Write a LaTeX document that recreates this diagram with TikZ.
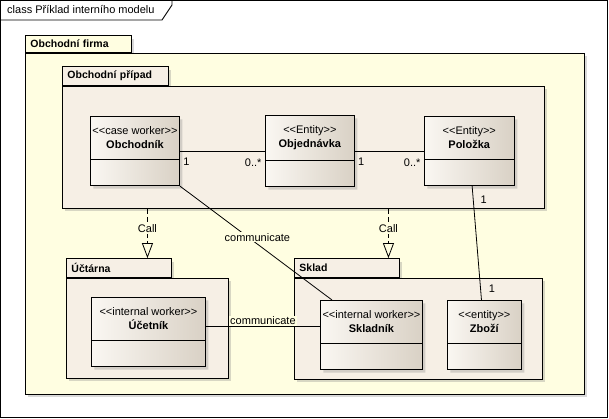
\documentclass[tikz,border=0pt]{standalone}
\usepackage{fontspec}
\setmainfont{Liberation Sans}[Ligatures=TeXOff]
\usetikzlibrary{arrows.meta, positioning, shapes.multipart, shadows}
\definecolor{firmaYellow}{HTML}{FFFEE1}
\definecolor{packageBeige}{HTML}{F6EFE5}
\definecolor{classLight}{HTML}{FAF7F2}
\definecolor{classDark}{HTML}{D9D1C5}
\newcommand{\stereo}[1]{<<#1>>}

\begin{document}
\begin{tikzpicture}[
  x=1pt, y=-1pt,
  every node/.style={font=\fontsize{11}{14}\selectfont},
  pkgbody/.style={draw, line width=0.9pt, fill=packageBeige, anchor=north west, inner sep=0pt,
                  drop shadow={shadow xshift=3pt, shadow yshift=-3pt, opacity=0.3}},
  pkgtab/.style={pkgbody, anchor=south west, inner xsep=5pt, align=left,
                 font=\fontsize{10.5}{13.5}\selectfont\bfseries},
  firmabody/.style={pkgbody, fill=firmaYellow},
  firmatab/.style={pkgtab, fill=firmaYellow},
  cls/.style={rectangle split, rectangle split parts=2, rectangle split empty part height=0pt,
              draw, line width=0.9pt, left color=classLight, right color=classDark,
              align=center, inner xsep=2pt, inner ysep=10pt, anchor=north west,
              drop shadow={shadow xshift=3pt, shadow yshift=-3pt, opacity=0.3}},
  assoc/.style={line width=0.8pt},
  call/.style={line width=0.8pt, dash pattern=on 5pt off 3pt,
               -{Triangle[open, length=15pt, width=11pt]}},
  lbl/.style={fill=firmaYellow, inner sep=1pt},
  mult/.style={inner xsep=3pt, inner ysep=7pt}
]
\useasboundingbox (0,0) rectangle (609,419);

% diagram frame
\draw[line width=0.9pt] (0.5,0.5) rectangle (607.5,417.5);
\node[anchor=west, inner sep=0pt] (title) at (7,10) {class Příklad interního modelu};
\draw[line width=0.9pt] (0.5,20) -- (162,20) -- (172,5) -- (172,0.5);

% packages
\node[firmatab, text width=96, minimum height=17] (firmaTab) at (25,53) {Obchodní firma};
\node[firmabody, minimum width=559, minimum height=341] (firma) at (firmaTab.south west) {};

\node[pkgtab, text width=96, minimum height=19] (pripadTab) at (62,86) {Obchodní případ};
\node[pkgbody, minimum width=482, minimum height=122] (pripad) at (pripadTab.south west) {};

\node[pkgtab, text width=95, minimum height=19] (uctarnaTab) at (66,278) {Účtárna};
\node[pkgbody, minimum width=162, minimum height=100] (uctarna) at (uctarnaTab.south west) {};

\node[pkgtab, text width=95, minimum height=19] (skladTab) at (294,278) {Sklad};
\node[pkgbody, minimum width=248, minimum height=101] (sklad) at (skladTab.south west) {};

% classes
\node[cls, minimum width=89, minimum height=69] (obchodnik) at (90,116)
  {\stereo{case worker}\\\textbf{Obchodník}\nodepart{two}};
\node[cls, minimum width=89, minimum height=69, right=85pt of obchodnik] (objednavka)
  {\stereo{Entity}\\\textbf{Objednávka}\nodepart{two}};
\node[cls, minimum width=90, minimum height=70, right=69pt of objednavka] (polozka)
  {\stereo{Entity}\\\textbf{Položka}\nodepart{two}};
\node[cls, minimum width=114, minimum height=68] (ucetnik) at (91,297)
  {\stereo{internal worker}\\\textbf{Účetník}\nodepart{two}};
\node[cls, minimum width=102, minimum height=59] (skladnik) at (320,300)
  {\stereo{internal worker}\\\textbf{Skladník}\nodepart{two}};
\node[cls, minimum width=74, minimum height=59, right=24pt of skladnik] (zbozi)
  {\stereo{entity}\\\textbf{Zboží}\nodepart{two}};

% associations
\draw[assoc] (obchodnik) -- node[mult, at start, below right] {1}
  node[mult, at end, below left] {0..*} (objednavka);
\draw[assoc] (objednavka) -- node[mult, at start, below right] {1}
  node[mult, at end, below left] {0..*} (polozka);
\draw[assoc] (polozka) -- node[mult, at start, below right, xshift=5, yshift=-2] {1}
  node[mult, at end, above right, xshift=4] {1} (zbozi);
\draw[assoc] (obchodnik.south east) -- node[lbl, pos=0.45, xshift=9] {communicate}
  ([xshift=12]skladnik.north west);
\draw[assoc] ([yshift=6]ucetnik.east) -- node[lbl, above] {communicate}
  ([yshift=6]ucetnik.east -| skladnik.west);

% call dependencies
\coordinate (callA) at ([xshift=28.5]uctarnaTab.north);
\coordinate (callB) at ([xshift=41.5]skladTab.north);
\draw[call] (callA |- pripad.south) -- node[lbl, pos=0.4] {Call} (callA);
\draw[call] (callB |- pripad.south) -- node[lbl, pos=0.4] {Call} (callB);
\end{tikzpicture}
\end{document}
